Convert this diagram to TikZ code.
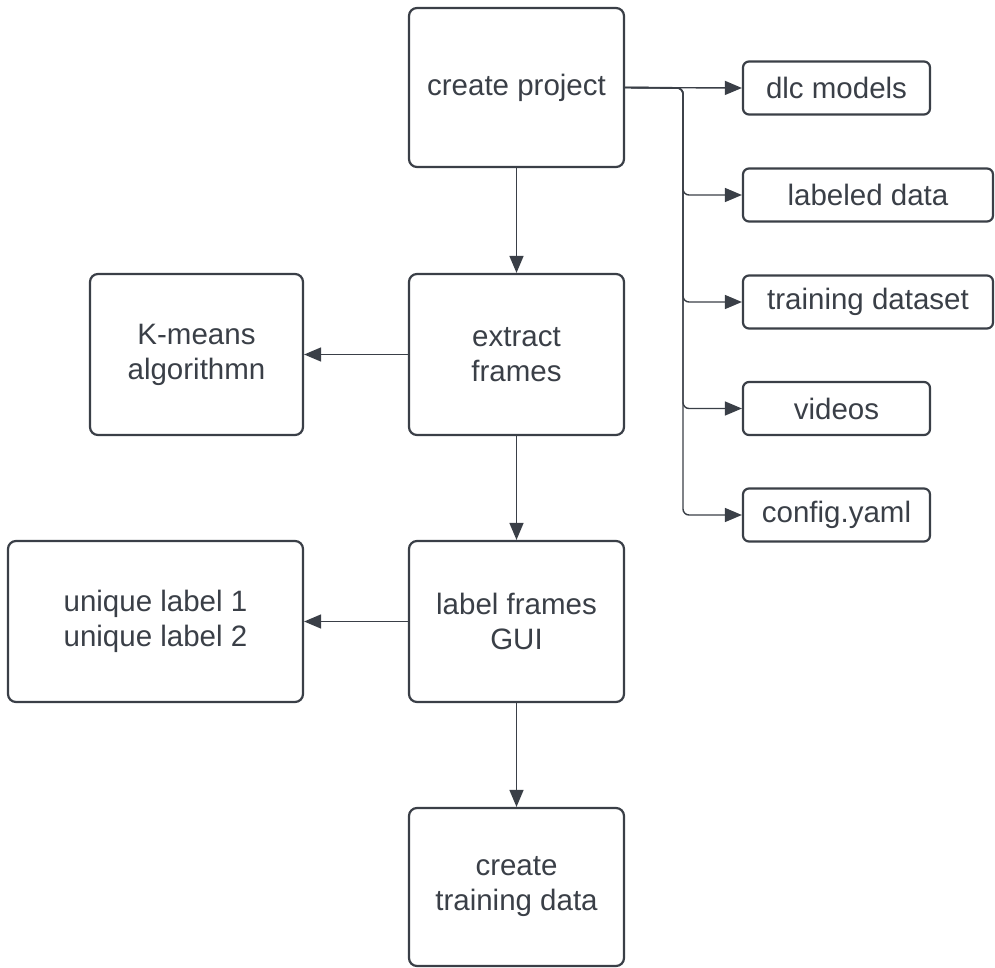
\documentclass[tikz,border=0pt]{standalone}
\usepackage{fontspec}
\setmainfont{Liberation Sans}
\usetikzlibrary{arrows.meta}
\definecolor{ink}{HTML}{3A3F47}
\begin{document}
\begin{tikzpicture}[x=1pt,y=-1pt,
  bigbox/.style={draw=ink, line width=2.2pt, rounded corners=8pt, text=ink,
    font=\fontsize{29.5}{35}\selectfont, align=center, inner sep=0pt},
  smallbox/.style={bigbox, rounded corners=6pt},
  link/.style={draw=ink, line width=1.4pt, -{Triangle[length=17pt,width=14pt]}}]
\useasboundingbox (0,0) rectangle (995,968);
\node[bigbox, minimum width=215pt, minimum height=159pt] (cp) at (516.5,87.5) {create project};
\node[bigbox, minimum width=215pt, minimum height=161pt] (ef) at (516.5,354.5) {extract\\frames};
\node[bigbox, minimum width=213pt, minimum height=161pt] (km) at (196.5,354.5) {K-means\\algorithmn};
\node[bigbox, minimum width=215pt, minimum height=161pt] (lf) at (516.5,621.5) {label frames\\GUI};
\node[bigbox, minimum width=295pt, minimum height=161pt] (ul) at (155.5,621.5) {unique label 1\\unique label 2};
\node[bigbox, minimum width=215pt, minimum height=158pt] (ct) at (516.5,887) {create\\training data};
\node[smallbox, minimum width=187pt, minimum height=53pt] (dlc) at (836.5,88) {dlc models};
\node[smallbox, minimum width=250pt, minimum height=53pt] (lab) at (868,195) {labeled data};
\node[smallbox, minimum width=250pt, minimum height=53pt] (trd) at (868,302) {training dataset};
\node[smallbox, minimum width=187pt, minimum height=53pt] (vid) at (836.5,408.5) {videos};
\node[smallbox, minimum width=187pt, minimum height=53pt] (cfg) at (836.5,515) {config.yaml};
\coordinate (tr) at (683,88);
\draw[link] (cp) -- (ef);
\draw[link] (ef) -- (lf);
\draw[link] (lf) -- (ct);
\draw[link] (ef.west) -- (km.east);
\draw[link] (lf.west) -- (ul.east);
\draw[link] (cp.east) -- (dlc.west);
\foreach \t in {lab,trd,vid,cfg}
  \draw[link, rounded corners=6pt] (cp.east) -- (tr) |- (\t.west);
\end{tikzpicture}
\end{document}
